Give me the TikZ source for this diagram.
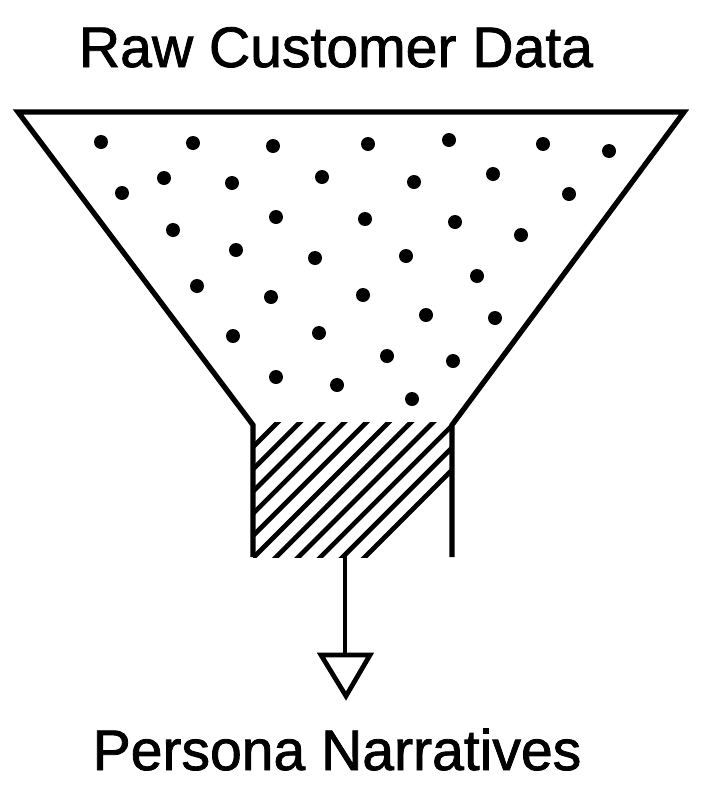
\documentclass[tikz,border=0pt]{standalone}
\usepackage{fontspec}
\setmainfont{Liberation Sans}[FakeBold=1.4]
\usetikzlibrary{positioning}

\begin{document}
\begin{tikzpicture}[
    x=0.02cm, y=-0.02cm,
    funnel/.style={line width=3pt, line join=miter},
    hatchline/.style={line width=2.7pt},
    dot/.style={fill=black},
    title/.style={font=\fontsize{32.5}{38}\selectfont, inner sep=0pt, anchor=base}
]
\useasboundingbox (0,0) rectangle (701,798);

% Labels
\node[title] (raw) at (336,67) {Raw Customer Data};
\node[title] (persona) at (337,770) {Persona Narratives};

% Funnel outline
\coordinate (topL) at (18,112);
\coordinate (topR) at (684,112);
\coordinate (neckL) at (253,425);
\coordinate (neckR) at (452,425);
\coordinate (outL) at (253,557);
\coordinate (outR) at (452,557);
\draw[funnel] (outL) -- (neckL) -- (topL) -- (topR) -- (neckR) -- (outR);

% Data points
\foreach \px/\py in {101/142, 193/143, 273/146, 368/144, 449/140, 543/144, 609/151,
                     122/193, 164/178, 232/183, 322/177, 414/182, 493/174, 569/194,
                     173/230, 276/217, 365/219, 455/222, 521/235,
                     236/250, 315/258, 406/256, 477/276,
                     197/286, 271/297, 363/295, 426/315, 495/318,
                     233/336, 319/333, 387/356, 453/361,
                     276/377, 337/385, 412/399}
    \fill[dot] (\px,\py) circle[radius=7];

% Hatched neck
\begin{scope}
  \clip (253,422) rectangle (452,557);
  \foreach \c in {700,722.2,...,923}
    \draw[hatchline] (\c-400,400) -- (\c-580,580);
\end{scope}

% Output arrow
\coordinate (outlet) at (345,555);
\coordinate (tip) at (346,696);
\draw[hatchline] (outlet) -- (345,655);
\draw[hatchline, line join=miter] (321,655) -- (370,655) -- (tip) -- cycle;
\end{tikzpicture}
\end{document}
